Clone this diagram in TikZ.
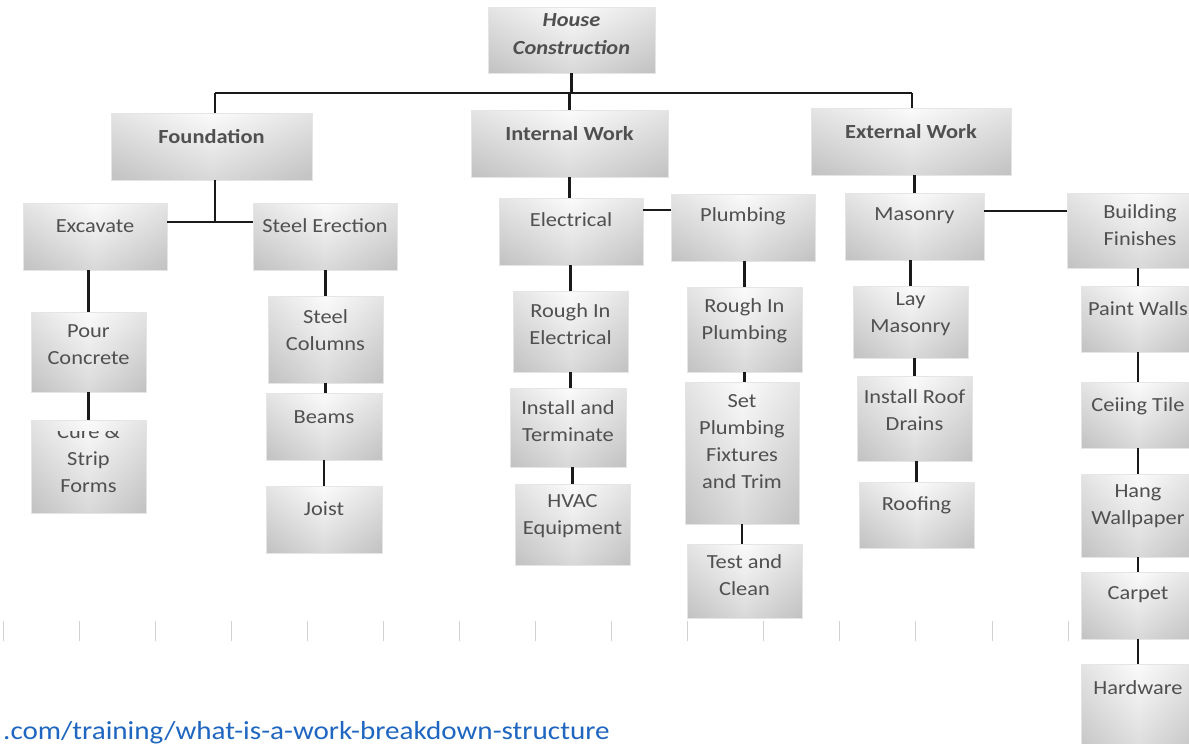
\documentclass[tikz,border=0pt]{standalone}
\usepackage{fontspec}
\setmainfont{Carlito}[FakeStretch=1.12]
\definecolor{wbsink}{HTML}{505050}
\definecolor{linkblue}{HTML}{1F66C1}
\definecolor{wire}{HTML}{1A1A1A}
\tikzset{
  wbsbox/.style={rectangle, inner sep=0pt, outer sep=0pt,
    draw=gray!20, line width=0.6pt,
    left color=gray!38, right color=gray!38, middle color=gray!5,
    path picture={\shade[top color=white, bottom color=gray!60, opacity=0.45]
      (path picture bounding box.south west) rectangle (path picture bounding box.north east);}},
  wbstext/.style={inner sep=0pt, align=center, text=wbsink,
    font=\fontsize{20}{27}\selectfont},
  headtext/.style={font=\fontsize{20}{27}\selectfont\bfseries},
  toptext/.style={font=\fontsize{20}{28}\selectfont\bfseries\itshape},
  wireline/.style={draw=wire, line width=2.2pt},
  tickmark/.style={draw=gray!35, line width=0.8pt}
}
% box from (x1,y1) to (x2,y2), text centred at height ytext
\newcommand\wbsnode[8][]{%
  \node[wbsbox, minimum width=#5pt-#3pt, minimum height=#6pt-#4pt]
    (#2) at ({(#3+#5)/2},{(#4+#6)/2}) {};
  \node[wbstext,#1] (#2-t) at ({(#3+#5)/2},#7) {#8};}
\begin{document}
\begin{tikzpicture}[x=1pt,y=-1pt]
\useasboundingbox (0,0) rectangle (1189,744);
\clip (0,0) rectangle (1189,744);
\fill[white] (0,0) rectangle (1189,744);

% top level
\wbsnode[toptext]{house}{488}{7}{655}{73}{34}{House\\Construction}
\wbsnode[headtext]{found}{111}{113}{312}{180}{137}{Foundation}
\wbsnode[headtext]{intern}{471}{110}{668}{177}{134}{Internal Work}
\wbsnode[headtext]{extern}{811}{108}{1011}{175}{132}{External Work}

% foundation branch
\wbsnode{exc}{23}{203}{167}{270}{226}{Excavate}
\wbsnode{ste}{253}{203}{397}{270}{226}{Steel Erection}
\wbsnode{pour}{31}{312}{146}{392}{344.5}{Pour\\Concrete}
\wbsnode{cure}{31}{420}{146}{513}{0}{}
\begin{scope}
  % the first line runs over the top of its box and is cut there
  \clip (31,431) rectangle (146,513);
  \node[wbstext] (cure-t) at (88.5,459) {Cure \&\\Strip\\Forms};
\end{scope}
\wbsnode{col}{268}{296}{383}{383}{330.5}{Steel\\Columns}
\wbsnode{beam}{266}{393}{382}{460}{417}{Beams}
\wbsnode{joist}{266}{486}{382}{553}{509}{Joist}

% internal work branch
\wbsnode{elec}{499}{198}{643}{265}{220}{Electrical}
\wbsnode{plumb}{671}{194}{815}{261}{216}{Plumbing}
\wbsnode{rie}{513}{291}{628}{372}{324.5}{Rough In\\Electrical}
\wbsnode{inst}{510}{388}{626}{467}{421}{Install and\\Terminate}
\wbsnode{hvac}{515}{484}{630}{565}{516.5}{HVAC\\Equipment}
\wbsnode{rip}{687}{287}{802}{372}{321}{Rough In\\Plumbing}
\wbsnode{setf}{685}{382}{799}{524}{441.5}{Set\\Plumbing\\Fixtures\\and Trim}
\wbsnode{test}{687}{544}{802}{618}{575}{Test and\\Clean}

% external work branch
\wbsnode{mas}{845}{193}{984}{260}{216}{Masonry}
\wbsnode{bf}{1067}{193}{1213}{268}{225.5}{Building\\Finishes}
\wbsnode{lay}{853}{286}{968}{358}{314.5}{Lay\\Masonry}
\wbsnode{ird}{857}{376}{972}{461}{410}{Install Roof\\Drains}
\wbsnode{roof}{859}{482}{974}{548}{505}{Roofing}
\wbsnode{pw}{1081}{286}{1195}{352}{309}{Paint Walls}
\wbsnode{ct}{1081}{382}{1195}{448}{406}{Ceiing Tile}
\wbsnode{hw}{1081}{474}{1195}{557}{506.5}{Hang\\Wallpaper}
\wbsnode{carp}{1081}{572}{1195}{639}{595}{Carpet}
\wbsnode{hard}{1081}{664}{1195}{760}{688}{Hardware}

% connectors
\coordinate (barL) at (215,93);
\coordinate (barR) at (912,93);
\draw[wireline] (barL) -- (barR);
\draw[wireline] (house.south) -- (house.south |- barL);
\draw[wireline] (barL) -- (barL |- found.north);
\draw[wireline] (intern.north |- barL) -- (intern.north);
\draw[wireline] (barR) -- (barR |- extern.north);

\coordinate (fj) at (215,222);
\draw[wireline] (fj |- found.south) -- (fj);
\draw[wireline] (exc.east |- fj) -- (ste.west |- fj);
\draw[wireline] (pour.north |- exc.south) -- (pour.north);
\draw[wireline] (pour.south) -- (cure.north);
\draw[wireline] (col.north |- ste.south) -- (col.north);
\draw[wireline] (col.south) -- (col.south |- beam.north);
\draw[wireline] (beam.south) -- (joist.north);

\draw[wireline] (intern.south) -- (intern.south |- elec.north);
\coordinate (ep) at (657,210);
\draw[wireline] (elec.east |- ep) -- (plumb.west |- ep);
\draw[wireline] (rie.north |- elec.south) -- (rie.north);
\draw[wireline] (rie.south) -- (rie.south |- inst.north);
\draw[wireline] (hvac.north |- inst.south) -- (hvac.north);
\draw[wireline] (rip.north |- plumb.south) -- (rip.north);
\draw[wireline] (rip.south) -- (rip.south |- setf.north);
\draw[wireline] (setf.south) -- (setf.south |- test.north);

\draw[wireline] (mas.north |- extern.south) -- (mas.north);
\coordinate (mb) at (1025,211);
\draw[wireline] (mas.east |- mb) -- (bf.west |- mb);
\draw[wireline] (lay.north |- mas.south) -- (lay.north);
\draw[wireline] (ird.north |- lay.south) -- (ird.north);
\draw[wireline] (roof.north |- ird.south) -- (roof.north);
\draw[wireline] (pw.north |- bf.south) -- (pw.north);
\draw[wireline] (pw.south) -- (ct.north);
\draw[wireline] (ct.south) -- (hw.north);
\draw[wireline] (hw.south) -- (carp.north);
\draw[wireline] (carp.south) -- (hard.north);

% faint tick marks along the bottom
\foreach \k in {0,...,14}
  \draw[tickmark] ({3+76.07*\k},621) -- ({3+76.07*\k},641);

% source line
\node[inner sep=0pt, anchor=base west, text=linkblue,
      font=\fontsize{26}{30}\selectfont] (src) at (3,739)
  {.com/training/what-is-a-work-breakdown-structure};
\end{tikzpicture}
\end{document}
